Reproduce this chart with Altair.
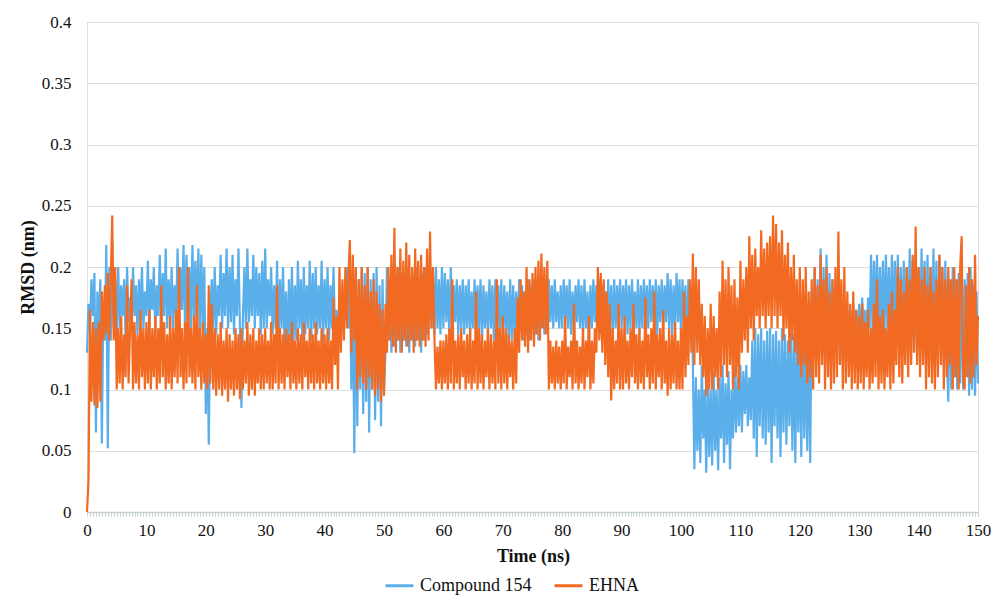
import altair as alt
import pandas as pd

# RMSD values (nm), read every 0.25 ns from 0 to 150 ns
compound154 = [
    0.13, 0.17, 0.15, 0.19, 0.16, 0.195, 0.065, 0.18, 0.15, 0.19, 0.056, 0.17, 0.14, 0.218, 0.052, 0.2, 0.14, 0.218, 0.15, 0.19,
    0.145, 0.2, 0.15, 0.185, 0.16, 0.19, 0.14, 0.2, 0.155, 0.175, 0.15, 0.2, 0.16, 0.185, 0.145, 0.19, 0.155, 0.2, 0.15, 0.18,
    0.16, 0.205, 0.15, 0.19, 0.165, 0.2, 0.145, 0.185, 0.16, 0.21, 0.15, 0.195, 0.16, 0.215, 0.15, 0.19, 0.155, 0.2, 0.15, 0.185,
    0.16, 0.215, 0.155, 0.2, 0.165, 0.218, 0.15, 0.21, 0.16, 0.2, 0.15, 0.218, 0.155, 0.205, 0.16, 0.215, 0.145, 0.21, 0.15, 0.2,
    0.08, 0.15, 0.055, 0.16, 0.19, 0.15, 0.2, 0.145, 0.185, 0.16, 0.21, 0.15, 0.195, 0.16, 0.215, 0.15, 0.2, 0.155, 0.21, 0.145,
    0.19, 0.16, 0.215, 0.15, 0.085, 0.16, 0.2, 0.15, 0.215, 0.155, 0.19, 0.16, 0.21, 0.15, 0.2, 0.16, 0.195, 0.145, 0.205, 0.15,
    0.215, 0.15, 0.19, 0.16, 0.2, 0.145, 0.185, 0.15, 0.205, 0.14, 0.19, 0.15, 0.2, 0.135, 0.18, 0.13, 0.19, 0.14, 0.2, 0.135,
    0.185, 0.14, 0.205, 0.15, 0.19, 0.14, 0.2, 0.145, 0.185, 0.15, 0.205, 0.14, 0.195, 0.15, 0.2, 0.145, 0.185, 0.15, 0.205, 0.14,
    0.19, 0.15, 0.2, 0.14, 0.185, 0.15, 0.2, 0.145, 0.165, 0.155, 0.16, 0.15, 0.165, 0.155, 0.16, 0.2, 0.15, 0.205, 0.1, 0.19,
    0.048, 0.2, 0.07, 0.19, 0.1, 0.2, 0.08, 0.195, 0.09, 0.2, 0.065, 0.19, 0.1, 0.195, 0.075, 0.2, 0.09, 0.185, 0.07, 0.19,
    0.1, 0.13, 0.2, 0.14, 0.19, 0.13, 0.2, 0.135, 0.19, 0.14, 0.2, 0.13, 0.195, 0.14, 0.185, 0.135, 0.2, 0.13, 0.19, 0.14,
    0.195, 0.135, 0.2, 0.14, 0.19, 0.13, 0.195, 0.14, 0.2, 0.145, 0.185, 0.2, 0.15, 0.195, 0.145, 0.2, 0.15, 0.19, 0.145, 0.2,
    0.15, 0.195, 0.155, 0.19, 0.145, 0.2, 0.15, 0.185, 0.155, 0.19, 0.145, 0.185, 0.15, 0.19, 0.145, 0.185, 0.15, 0.19, 0.145, 0.18,
    0.15, 0.19, 0.145, 0.185, 0.15, 0.19, 0.14, 0.185, 0.15, 0.18, 0.145, 0.19, 0.15, 0.185, 0.14, 0.19, 0.145, 0.185, 0.15, 0.19,
    0.14, 0.185, 0.15, 0.18, 0.135, 0.19, 0.14, 0.185, 0.145, 0.18, 0.14, 0.19, 0.15, 0.185, 0.14, 0.18, 0.145, 0.19, 0.14, 0.185,
    0.15, 0.19, 0.145, 0.185, 0.14, 0.19, 0.15, 0.18, 0.145, 0.185, 0.15, 0.19, 0.155, 0.185, 0.15, 0.19, 0.155, 0.18, 0.15, 0.185,
    0.15, 0.19, 0.155, 0.185, 0.15, 0.19, 0.145, 0.18, 0.15, 0.185, 0.155, 0.19, 0.15, 0.185, 0.145, 0.19, 0.15, 0.18, 0.14, 0.185,
    0.15, 0.19, 0.155, 0.185, 0.15, 0.19, 0.145, 0.185, 0.15, 0.18, 0.155, 0.19, 0.15, 0.185, 0.145, 0.19, 0.15, 0.185, 0.155, 0.19,
    0.15, 0.185, 0.155, 0.19, 0.145, 0.185, 0.15, 0.19, 0.155, 0.18, 0.15, 0.19, 0.145, 0.185, 0.15, 0.19, 0.155, 0.185, 0.15, 0.19,
    0.155, 0.185, 0.15, 0.19, 0.145, 0.185, 0.155, 0.19, 0.15, 0.185, 0.155, 0.195, 0.15, 0.19, 0.145, 0.185, 0.15, 0.195, 0.155, 0.19,
    0.145, 0.19, 0.15, 0.185, 0.14, 0.19, 0.145, 0.18, 0.12, 0.035, 0.11, 0.05, 0.1, 0.04, 0.12, 0.06, 0.1, 0.032, 0.11, 0.045,
    0.1, 0.038, 0.115, 0.05, 0.1, 0.034, 0.11, 0.06, 0.12, 0.04, 0.105, 0.055, 0.115, 0.035, 0.1, 0.06, 0.12, 0.065, 0.11, 0.07,
    0.12, 0.065, 0.115, 0.08, 0.12, 0.07, 0.11, 0.075, 0.14, 0.06, 0.15, 0.045, 0.145, 0.07, 0.15, 0.06, 0.14, 0.055, 0.148, 0.065,
    0.15, 0.04, 0.145, 0.07, 0.148, 0.06, 0.14, 0.045, 0.15, 0.065, 0.145, 0.055, 0.14, 0.07, 0.148, 0.05, 0.145, 0.04, 0.15, 0.065,
    0.14, 0.045, 0.15, 0.06, 0.14, 0.05, 0.15, 0.04, 0.18, 0.13, 0.2, 0.125, 0.19, 0.13, 0.215, 0.125, 0.2, 0.13, 0.21, 0.12,
    0.195, 0.13, 0.19, 0.125, 0.18, 0.13, 0.175, 0.12, 0.17, 0.13, 0.165, 0.125, 0.17, 0.13, 0.165, 0.12, 0.17, 0.13, 0.165, 0.14,
    0.17, 0.14, 0.175, 0.145, 0.165, 0.14, 0.175, 0.15, 0.21, 0.145, 0.205, 0.15, 0.21, 0.145, 0.2, 0.15, 0.205, 0.145, 0.21, 0.15,
    0.2, 0.145, 0.21, 0.15, 0.205, 0.14, 0.21, 0.15, 0.2, 0.145, 0.205, 0.13, 0.2, 0.14, 0.215, 0.13, 0.205, 0.135, 0.21, 0.13,
    0.2, 0.135, 0.215, 0.13, 0.205, 0.125, 0.21, 0.13, 0.2, 0.12, 0.215, 0.13, 0.205, 0.125, 0.21, 0.13, 0.2, 0.12, 0.205, 0.13,
    0.09, 0.19, 0.1, 0.2, 0.11, 0.19, 0.1, 0.195, 0.105, 0.2, 0.1, 0.19, 0.11, 0.195, 0.095, 0.2, 0.1, 0.185, 0.095, 0.18,
    0.105,
]

ehna = [
    0.0, 0.025, 0.165, 0.09, 0.155, 0.087, 0.15, 0.085, 0.155, 0.09, 0.18, 0.14, 0.185, 0.145, 0.195, 0.14, 0.19, 0.242, 0.14, 0.2,
    0.1, 0.15, 0.105, 0.16, 0.1, 0.145, 0.11, 0.185, 0.105, 0.15, 0.19, 0.1, 0.155, 0.105, 0.145, 0.1, 0.165, 0.11, 0.15, 0.1,
    0.155, 0.105, 0.165, 0.1, 0.15, 0.11, 0.16, 0.1, 0.15, 0.105, 0.185, 0.11, 0.155, 0.1, 0.145, 0.105, 0.16, 0.1, 0.15, 0.11,
    0.165, 0.105, 0.2, 0.11, 0.15, 0.1, 0.155, 0.105, 0.2, 0.11, 0.15, 0.105, 0.16, 0.1, 0.185, 0.11, 0.15, 0.1, 0.155, 0.105,
    0.145, 0.1, 0.185, 0.105, 0.17, 0.1, 0.15, 0.095, 0.145, 0.1, 0.155, 0.095, 0.14, 0.1, 0.15, 0.09, 0.145, 0.1, 0.14, 0.095,
    0.15, 0.1, 0.145, 0.092, 0.15, 0.1, 0.14, 0.105, 0.155, 0.095, 0.145, 0.1, 0.15, 0.095, 0.14, 0.105, 0.15, 0.1, 0.145, 0.1,
    0.15, 0.105, 0.14, 0.1, 0.155, 0.1, 0.145, 0.105, 0.185, 0.1, 0.15, 0.105, 0.145, 0.1, 0.15, 0.11, 0.145, 0.1, 0.155, 0.105,
    0.14, 0.1, 0.15, 0.105, 0.145, 0.1, 0.155, 0.11, 0.14, 0.1, 0.15, 0.105, 0.145, 0.1, 0.155, 0.105, 0.14, 0.1, 0.15, 0.105,
    0.145, 0.1, 0.15, 0.105, 0.14, 0.1, 0.175, 0.12, 0.16, 0.1, 0.2, 0.13, 0.19, 0.14, 0.2, 0.15, 0.19, 0.222, 0.13, 0.21,
    0.14, 0.2, 0.1, 0.19, 0.11, 0.2, 0.105, 0.185, 0.1, 0.2, 0.11, 0.18, 0.1, 0.19, 0.095, 0.18, 0.1, 0.17, 0.09, 0.165,
    0.095, 0.17, 0.13, 0.2, 0.14, 0.21, 0.135, 0.232, 0.13, 0.2, 0.14, 0.215, 0.13, 0.205, 0.14, 0.22, 0.135, 0.21, 0.14, 0.2,
    0.13, 0.215, 0.14, 0.205, 0.135, 0.21, 0.14, 0.2, 0.135, 0.215, 0.14, 0.229, 0.15, 0.2, 0.14, 0.1, 0.135, 0.105, 0.14, 0.1,
    0.14, 0.105, 0.145, 0.1, 0.15, 0.105, 0.19, 0.1, 0.14, 0.105, 0.145, 0.1, 0.15, 0.11, 0.14, 0.1, 0.145, 0.105, 0.15, 0.1,
    0.14, 0.105, 0.18, 0.1, 0.15, 0.105, 0.145, 0.1, 0.14, 0.11, 0.15, 0.1, 0.145, 0.105, 0.14, 0.1, 0.19, 0.105, 0.15, 0.1,
    0.16, 0.105, 0.15, 0.1, 0.145, 0.11, 0.14, 0.1, 0.15, 0.105, 0.175, 0.13, 0.19, 0.14, 0.18, 0.135, 0.2, 0.13, 0.19, 0.14,
    0.195, 0.135, 0.2, 0.145, 0.205, 0.14, 0.211, 0.15, 0.2, 0.145, 0.205, 0.1, 0.14, 0.105, 0.135, 0.1, 0.14, 0.105, 0.135, 0.1,
    0.14, 0.105, 0.16, 0.1, 0.135, 0.11, 0.14, 0.1, 0.17, 0.105, 0.14, 0.1, 0.135, 0.105, 0.15, 0.1, 0.14, 0.11, 0.16, 0.1,
    0.14, 0.105, 0.15, 0.13, 0.2, 0.14, 0.195, 0.13, 0.19, 0.12, 0.18, 0.11, 0.17, 0.091, 0.15, 0.1, 0.14, 0.105, 0.17, 0.1,
    0.15, 0.1, 0.16, 0.105, 0.14, 0.1, 0.15, 0.11, 0.17, 0.105, 0.145, 0.1, 0.15, 0.105, 0.14, 0.1, 0.175, 0.11, 0.145, 0.1,
    0.15, 0.105, 0.18, 0.1, 0.145, 0.11, 0.15, 0.1, 0.165, 0.105, 0.14, 0.095, 0.15, 0.1, 0.145, 0.105, 0.155, 0.1, 0.14, 0.1,
    0.15, 0.1, 0.18, 0.11, 0.16, 0.12, 0.19, 0.13, 0.211, 0.12, 0.2, 0.13, 0.19, 0.12, 0.17, 0.11, 0.16, 0.095, 0.15, 0.1,
    0.17, 0.1, 0.16, 0.11, 0.15, 0.1, 0.18, 0.11, 0.205, 0.12, 0.19, 0.11, 0.2, 0.12, 0.185, 0.1, 0.19, 0.11, 0.175, 0.1,
    0.205, 0.13, 0.19, 0.14, 0.2, 0.13, 0.225, 0.15, 0.21, 0.14, 0.215, 0.16, 0.2, 0.15, 0.23, 0.16, 0.215, 0.15, 0.22, 0.16,
    0.225, 0.15, 0.242, 0.16, 0.235, 0.15, 0.22, 0.16, 0.23, 0.14, 0.21, 0.15, 0.22, 0.13, 0.2, 0.14, 0.21, 0.13, 0.19, 0.12,
    0.2, 0.11, 0.19, 0.12, 0.2, 0.105, 0.18, 0.11, 0.19, 0.1, 0.2, 0.11, 0.185, 0.105, 0.21, 0.12, 0.19, 0.1, 0.2, 0.11,
    0.18, 0.1, 0.19, 0.105, 0.2, 0.11, 0.229, 0.12, 0.19, 0.1, 0.2, 0.105, 0.18, 0.11, 0.17, 0.1, 0.18, 0.105, 0.165, 0.1,
    0.16, 0.105, 0.17, 0.1, 0.155, 0.11, 0.165, 0.1, 0.15, 0.105, 0.17, 0.11, 0.19, 0.1, 0.16, 0.105, 0.165, 0.1, 0.15, 0.11,
    0.17, 0.1, 0.18, 0.105, 0.165, 0.12, 0.2, 0.11, 0.19, 0.105, 0.18, 0.12, 0.2, 0.11, 0.19, 0.12, 0.21, 0.13, 0.233, 0.12,
    0.2, 0.11, 0.19, 0.12, 0.2, 0.1, 0.185, 0.11, 0.2, 0.105, 0.18, 0.1, 0.19, 0.11, 0.21, 0.12, 0.2, 0.1, 0.19, 0.11,
    0.2, 0.12, 0.19, 0.1, 0.2, 0.11, 0.19, 0.1, 0.2, 0.225, 0.11, 0.1, 0.185, 0.11, 0.2, 0.105, 0.19, 0.11, 0.21, 0.12,
    0.16,
]

series_names = ["Compound 154", "EHNA"]
series_colors = ["#5AAFEA", "#F26A22"]
x_tick_values = [i * 0.5 for i in range(301)]
y_tick_values = [0, 0.05, 0.1, 0.15, 0.2, 0.25, 0.3, 0.35, 0.4]
STEP = 0.25

rows = []
for i, v in enumerate(compound154):
    rows.append({"time": i * STEP, "rmsd": v, "series": series_names[0], "order": 0})
for i, v in enumerate(ehna):
    rows.append({"time": i * STEP, "rmsd": v, "series": series_names[1], "order": 1})
df = pd.DataFrame(rows)

FONT = "Liberation Serif"

chart = (
    alt.Chart(df)
    .mark_line(strokeWidth=2.2, strokeJoin="miter", strokeMiterLimit=2)
    .encode(
        x=alt.X(
            "time:Q",
            scale=alt.Scale(domain=[0, 150], nice=False, zero=True),
            axis=alt.Axis(
                title="Time (ns)",
                values=x_tick_values,
                labelExpr="datum.value % 10 === 0 ? format(datum.value, 'd') : ''",
                labelOverlap=False,
                labelFlush=False,
                grid=False,
                domainColor="#c8d0d4",
                domainWidth=1.5,
                tickColor="#c8d0d4",
                tickSize=4,
                tickWidth=1,
                labelPadding=6,
                labelFont=FONT,
                labelFontSize=17,
                labelColor="#111111",
                titleFont=FONT,
                titleFontSize=18,
                titleFontWeight="bold",
                titleColor="#111111",
                titleX=446,
                titleY=44,
                titleBaseline="middle",
            ),
        ),
        y=alt.Y(
            "rmsd:Q",
            scale=alt.Scale(domain=[0, 0.4], nice=False),
            axis=alt.Axis(
                title="RMSD (nm)",
                values=y_tick_values,
                labelExpr="datum.value === 0 ? '0' : format(datum.value, '.2~f')",
                domain=False,
                ticks=False,
                grid=True,
                gridColor="#d9dee0",
                gridWidth=1.2,
                labelPadding=16,
                labelFont=FONT,
                labelFontSize=17,
                labelColor="#111111",
                titleFont=FONT,
                titleFontSize=18,
                titleFontWeight="bold",
                titleColor="#111111",
                titleAngle=270,
                titleX=-59,
                titleY=245,
                titleAlign="center",
                titleBaseline="middle",
            ),
        ),
        color=alt.Color(
            "series:N",
            scale=alt.Scale(domain=series_names, range=series_colors),
            legend=alt.Legend(
                title=None,
                orient="none",
                direction="horizontal",
                legendX=297,
                legendY=548,
                symbolType="stroke",
                symbolSize=784,
                symbolStrokeWidth=3,
                labelFont=FONT,
                labelFontSize=18,
                labelColor="#111111",
                columnPadding=16,
                labelOffset=5,
            ),
        ),
        order=alt.Order("order:Q"),
        detail="series:N",
    )
    .properties(
        width=891,
        height=490,
        padding={"left": 79, "top": 14, "right": 14, "bottom": 88},
        autosize=alt.AutoSizeParams(type="none"),
    )
    .configure_view(stroke=None)
    .configure(font=FONT)
)

chart.save("out.html", embed_options={"renderer": "svg", "actions": False})
